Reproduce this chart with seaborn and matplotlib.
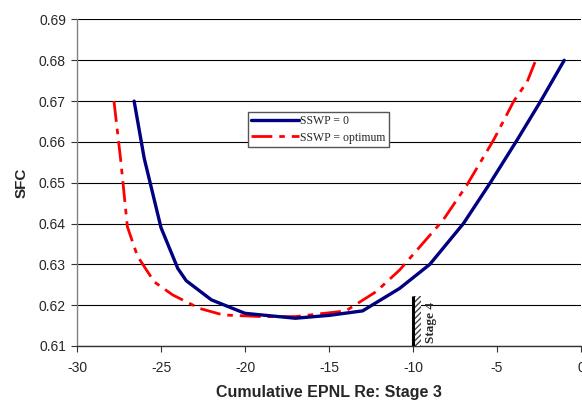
import matplotlib
matplotlib.use("Agg")
import matplotlib.pyplot as plt
import matplotlib.patches as mpatches
from matplotlib.lines import Line2D
import seaborn as sns
import pandas as pd

# curve values
sswp0_x = [-26.6, -26.0, -25.0, -24.0, -23.5, -22.0, -20.0, -17.0, -15.0, -13.0,
           -10.8, -9.0, -7.0, -5.4, -3.8, -2.4, -1.0]
sswp0_y = [0.670, 0.656, 0.639, 0.629, 0.626, 0.6213, 0.618, 0.6168, 0.6175, 0.6186,
           0.6241, 0.630, 0.640, 0.650, 0.6605, 0.670, 0.680]

opt_x = [-27.8, -27.4, -27.0, -26.4, -25.4, -24.3, -22.7, -21.3, -19.0, -17.0,
         -14.0, -12.2, -10.8, -8.2, -6.8, -5.2, -4.0, -3.2, -2.6]
opt_y = [0.670, 0.6556, 0.6392, 0.632, 0.6257, 0.6225, 0.6192, 0.6176, 0.6172, 0.6172,
         0.6186, 0.6233, 0.6286, 0.6409, 0.6494, 0.6605, 0.670, 0.6748, 0.681]

x_ticks = [-30, -25, -20, -15, -10, -5, 0]
y_ticks = [0.61, 0.62, 0.63, 0.64, 0.65, 0.66, 0.67, 0.68, 0.69]

stage4_x = -10.0
stage4_top = 0.6222

sns.set_style("white")
plt.rcParams['font.family'] = ['Liberation Sans', 'DejaVu Sans']

fig = plt.figure(figsize=(5.82, 4.01), dpi=100)
ax = fig.add_axes([0.1323, 0.1372, 0.866, 0.8142])

df0 = pd.DataFrame({"x": sswp0_x, "y": sswp0_y})
df1 = pd.DataFrame({"x": opt_x, "y": opt_y})

red_dash = [7.5, 2.5, 2, 2.5]

sns.lineplot(data=df1, x="x", y="y", ax=ax, color="#ff0000", linewidth=2.0,
             sort=False, zorder=3)
ax.lines[-1].set_dashes(red_dash)
sns.lineplot(data=df0, x="x", y="y", ax=ax, color="#000080", linewidth=2.4,
             sort=False, zorder=4)

# Stage 4 limit marker
ax.plot([stage4_x, stage4_x], [0.61, stage4_top], color="black", lw=2.2, zorder=5,
        solid_capstyle="butt")
ax.add_patch(mpatches.Rectangle((stage4_x, 0.61), 0.5, stage4_top - 0.61,
                                facecolor="white", edgecolor="#444444", hatch="//////",
                                linewidth=0, zorder=4))
ax.text(-8.9, 0.6157, "Stage 4", rotation=90, ha="center", va="center",
        fontsize=9.5, fontweight="bold", family=["Liberation Serif"], zorder=6)

ax.set_xlim(-30, 0)
ax.set_ylim(0.61, 0.69)
ax.set_xticks(x_ticks)
ax.set_yticks(y_ticks)
ax.set_xticklabels([str(t) for t in x_ticks])
ax.set_yticklabels([f"{t:.2f}" for t in y_ticks])
ax.tick_params(axis="both", direction="out", length=4, width=0.8, color="#333333",
               labelsize=10, bottom=True, left=True)
ax.tick_params(axis="x", pad=7)
ax.tick_params(axis="y", pad=4)

ax.yaxis.grid(True, color="black", linewidth=0.8)
ax.set_axisbelow(True)
for s in ["top", "right"]:
    ax.spines[s].set_visible(False)
ax.spines["left"].set_color("#808080")
ax.spines["bottom"].set_color("#333333")
ax.spines["left"].set_linewidth(1.0)
ax.spines["bottom"].set_linewidth(1.0)

ax.set_xlabel("Cumulative EPNL Re: Stage 3", fontsize=11.5, fontweight="bold", labelpad=7)
ax.set_ylabel("SFC", fontsize=11, fontweight="bold", labelpad=7)

handles = [Line2D([0], [0], color="#000080", lw=2.4),
           Line2D([0], [0], color="#ff0000", lw=2.0, dashes=red_dash)]
leg = ax.legend(handles, ["SSWP = 0", "SSWP = optimum"], loc="upper left",
                bbox_to_anchor=(0.339, 0.717), frameon=True, fancybox=False,
                edgecolor="#555555", framealpha=1, handlelength=4.0, handletextpad=0.1,
                borderpad=0.3, labelspacing=0.35, borderaxespad=0,
                prop={"family": "Liberation Serif", "size": 8.5})
leg.get_frame().set_linewidth(1.0)

plt.savefig("out.png", dpi=100)
plt.close()
